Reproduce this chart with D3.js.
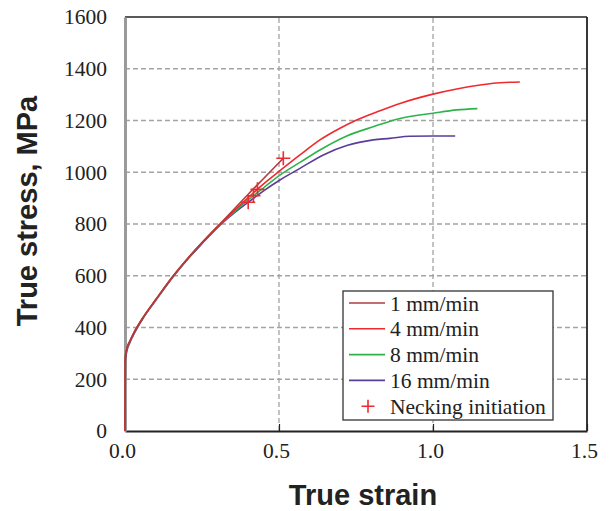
<!DOCTYPE html>
<html>
<head>
<meta charset="utf-8">
<script src="https://cdn.jsdelivr.net/npm/d3@7"></script>
<style>
  html, body { margin: 0; padding: 0; background: #fff; }
  svg { display: block; }
</style>
</head>
<body>
<svg id="chart" width="609" height="511"></svg>
<script>
// Stress–strain curves at four crosshead speeds
const seriesNames = ["1 mm/min", "4 mm/min", "8 mm/min", "16 mm/min"];
const seriesColors = ["#b23b3b", "#ee2a2f", "#2eb34b", "#5a3d99"];

const strain1 = [0, 0.001, 0.006, 0.016, 0.03, 0.06, 0.1, 0.157, 0.2, 0.25, 0.3, 0.35, 0.4, 0.45, 0.514];
const stress1 = [0, 280, 318, 348, 382, 441, 508, 600, 662, 728, 790, 852, 915, 976, 1054];

const strain4 = [0, 0.001, 0.006, 0.016, 0.03, 0.06, 0.1, 0.157, 0.2, 0.25, 0.3, 0.35, 0.4, 0.45, 0.503, 0.568, 0.633, 0.698, 0.752, 0.828, 0.893, 1.0, 1.077, 1.153, 1.218, 1.282];
const stress4 = [0, 285, 318, 348, 382, 441, 508, 600, 662, 727, 789, 846, 902, 955, 1006, 1067, 1125, 1170, 1202, 1238, 1266, 1302, 1322, 1337, 1346, 1349];

const strain8 = [0, 0.001, 0.006, 0.016, 0.03, 0.06, 0.1, 0.157, 0.2, 0.25, 0.3, 0.35, 0.4, 0.45, 0.503, 0.568, 0.633, 0.72, 0.806, 0.893, 1.0, 1.077, 1.144];
const stress8 = [0, 290, 318, 347, 381, 440, 507, 599, 661, 726, 788, 842, 893, 940, 989, 1038, 1086, 1140, 1176, 1208, 1228, 1241, 1246];

const strain16 = [0, 0.001, 0.006, 0.016, 0.03, 0.06, 0.1, 0.157, 0.2, 0.25, 0.3, 0.35, 0.4, 0.45, 0.503, 0.568, 0.644, 0.72, 0.806, 0.86, 0.925, 1.0, 1.072];
const stress16 = [0, 270, 308, 342, 377, 438, 505, 597, 659, 724, 786, 838, 884, 928, 970, 1015, 1067, 1103, 1125, 1131, 1139, 1140, 1140];

// Onset of necking for each speed
const neckStrain = [0.514, 0.43, 0.417, 0.40];
const neckStress = [1054, 934, 909, 884];

const xTicks = [0, 0.5, 1.0, 1.5];
const yTicks = [0, 200, 400, 600, 800, 1000, 1200, 1400, 1600];

const strains = [strain1, strain4, strain8, strain16];
const stresses = [stress1, stress4, stress8, stress16];

const width = 609, height = 511;
const margin = { top: 17, right: 22, bottom: 80, left: 125 };
const svg = d3.select("#chart");

const x = d3.scaleLinear().domain([0, 1.5]).range([margin.left, width - margin.right]);
const y = d3.scaleLinear().domain([0, 1600]).range([height - margin.bottom, margin.top]);

const serif = "'Liberation Serif', 'Times New Roman', serif";
const sans = "'Liberation Sans', Arial, sans-serif";

// Dashed grid
const grid = svg.append("g");
grid.selectAll("line.h").data(yTicks.slice(1, -1)).join("line")
  .attr("x1", x(0)).attr("x2", x(1.5))
  .attr("y1", d => y(d)).attr("y2", d => y(d))
  .attr("stroke", "#a3a3a3").attr("stroke-width", 1.3).attr("stroke-dasharray", "5,3");
grid.selectAll("line.v").data(xTicks.slice(1, -1)).join("line")
  .attr("x1", d => x(d)).attr("x2", d => x(d))
  .attr("y1", y(0)).attr("y2", y(1600))
  .attr("stroke", "#a3a3a3").attr("stroke-width", 1.3).attr("stroke-dasharray", "5,3");

// Frame: gray left axis, dark top/right/bottom
svg.append("line").attr("x1", x(0)).attr("x2", x(1.5)).attr("y1", y(1600)).attr("y2", y(1600))
  .attr("stroke", "#222").attr("stroke-width", 1.5);
svg.append("line").attr("x1", x(1.5)).attr("x2", x(1.5)).attr("y1", y(1600)).attr("y2", y(0))
  .attr("stroke", "#222").attr("stroke-width", 1.8);

// Bottom axis with inward ticks
const xAxis = svg.append("g").attr("transform", `translate(0,${y(0)})`)
  .call(d3.axisBottom(x).tickValues(xTicks).tickFormat(d3.format(".1f")).tickSizeInner(-7).tickSizeOuter(0).tickPadding(12))
  .attr("font-family", serif).attr("font-size", 21.5);
xAxis.select(".domain").attr("stroke", "#222").attr("stroke-width", 1.8);
xAxis.selectAll(".tick line").attr("stroke", "#222").attr("stroke-width", 1.2);
xAxis.selectAll(".tick text").attr("fill", "#222").attr("dx", -3);

// Left axis
const yAxis = svg.append("g").attr("transform", `translate(${x(0)},0)`)
  .call(d3.axisLeft(y).tickValues(yTicks).tickFormat(d3.format("d")).tickSize(0).tickPadding(18))
  .attr("font-family", serif).attr("font-size", 21.5);
yAxis.select(".domain").attr("stroke", "#9a9a9a").attr("stroke-width", 3);
yAxis.selectAll(".tick text").attr("fill", "#222");

// Curves, slowest speed drawn last
const line = d3.line().curve(d3.curveMonotoneX);
for (let i = seriesNames.length - 1; i >= 0; i--) {
  const pts = strains[i].map((s, j) => [x(s), y(stresses[i][j])]);
  svg.append("path").attr("d", line(pts))
    .attr("fill", "none").attr("stroke", seriesColors[i]).attr("stroke-width", 1.6);
}

// Necking markers
const plus = (g, cx, cy, r) => {
  g.append("path").attr("d", `M${cx - r},${cy}H${cx + r}M${cx},${cy - r}V${cy + r}`)
    .attr("stroke", "#ee2a2f").attr("stroke-width", 1.6).attr("fill", "none");
};
const marks = svg.append("g");
neckStrain.forEach((s, i) => plus(marks, x(s), y(neckStress[i]), 7));

// Axis titles
svg.append("text").attr("x", 363).attr("y", 505)
  .attr("text-anchor", "middle").attr("font-family", sans).attr("font-weight", "bold")
  .attr("font-size", 29).attr("fill", "#222").text("True strain");
svg.append("text").attr("transform", `translate(37,211) rotate(-90)`)
  .attr("text-anchor", "middle").attr("font-family", sans).attr("font-weight", "bold")
  .attr("font-size", 29).attr("fill", "#222").text("True stress, MPa");

// Legend
const lg = svg.append("g");
lg.append("rect").attr("x", 343).attr("y", 291).attr("width", 210).attr("height", 129)
  .attr("fill", "#fff").attr("stroke", "#333").attr("stroke-width", 1.3);
const rowY = i => 303 + i * 25.8;
seriesNames.forEach((name, i) => {
  lg.append("line").attr("x1", 349).attr("x2", 385).attr("y1", rowY(i)).attr("y2", rowY(i))
    .attr("stroke", seriesColors[i]).attr("stroke-width", 1.6);
  lg.append("text").attr("x", 390).attr("y", rowY(i)).attr("dy", "0.35em")
    .attr("font-family", serif).attr("font-size", 21.5).attr("fill", "#222").text(name);
});
plus(lg, 368, rowY(4), 6.5);
lg.append("text").attr("x", 390).attr("y", rowY(4)).attr("dy", "0.35em")
  .attr("font-family", serif).attr("font-size", 21.5).attr("fill", "#222").text("Necking initiation");
</script>
</body>
</html>
